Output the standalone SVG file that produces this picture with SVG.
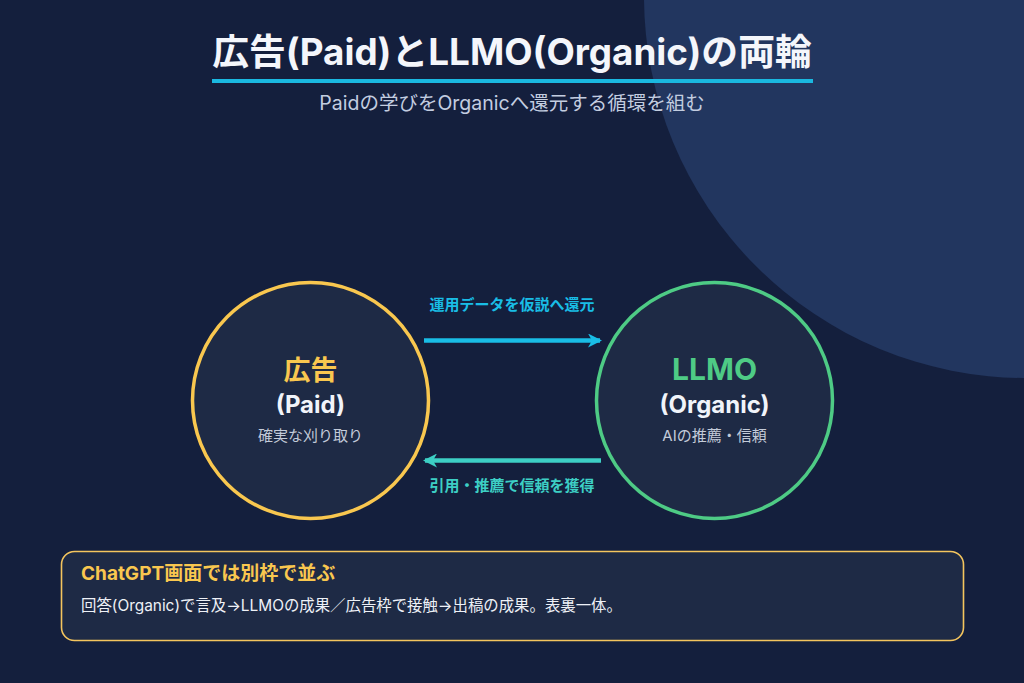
<svg xmlns="http://www.w3.org/2000/svg" width="1024" height="683" viewBox="0 0 1024 683">
  <defs>
    <marker id="headCyan" viewBox="0 0 14 14" refX="12" refY="7" markerWidth="14" markerHeight="14" markerUnits="userSpaceOnUse" orient="auto">
      <path d="M0,0 L14,7 L0,14 L4,7 Z" fill="#19bde6"/>
    </marker>
    <marker id="headTeal" viewBox="0 0 14 14" refX="12" refY="7" markerWidth="14" markerHeight="14" markerUnits="userSpaceOnUse" orient="auto">
      <path d="M0,0 L14,7 L0,14 L4,7 Z" fill="#3dcfc5"/>
    </marker>
  </defs>
  <style>
    .sans { font-family: "Inter", "Noto Sans CJK JP", sans-serif; }
    .title { font-size: 36.8px; font-weight: 700; fill: #f4f6fb; }
    .sub { font-size: 19.5px; fill: #c3cde0; }
    .node { fill: #1e2a45; stroke-width: 3.5; }
    .head { font-size: 27px; font-weight: 700; }
    .paren { font-size: 24px; font-weight: 700; fill: #f1f4fa; }
    .desc { font-size: 15px; fill: #c3cbd9; }
    .lab { font-size: 15px; font-weight: 700; }
  </style>
  <rect width="1024" height="683" fill="#141f3d"/>
  <circle cx="1026" cy="-4" r="382" fill="#22365f"/>

  <g id="title" class="sans">
    <text x="512" y="65" text-anchor="middle" class="title">広告(Paid)とLLMO(Organic)の両輪</text>
    <rect x="212" y="79" width="601" height="4" fill="#1ab8e0"/>
    <text x="512" y="110" text-anchor="middle" class="sub">Paidの学びをOrganicへ還元する循環を組む</text>
  </g>

  <g id="node-paid" class="sans">
    <circle cx="310.5" cy="400.5" r="118" class="node" stroke="#f9c74f"/>
    <text x="310.5" y="380" text-anchor="middle" class="head" fill="#f9c74f">広告</text>
    <text x="310.5" y="413" text-anchor="middle" class="paren">(Paid)</text>
    <text x="310.5" y="441" text-anchor="middle" class="desc">確実な刈り取り</text>
  </g>

  <g id="node-llmo" class="sans">
    <circle cx="714.5" cy="400.5" r="118" class="node" stroke="#4ecb85"/>
    <text x="714.5" y="380" text-anchor="middle" class="head" fill="#4ecb85" style="font-size:30px">LLMO</text>
    <text x="714.5" y="413" text-anchor="middle" class="paren">(Organic)</text>
    <text x="714.5" y="441" text-anchor="middle" class="desc">AIの推薦・信頼</text>
  </g>

  <g id="connectors" class="sans">
    <line x1="424" y1="340.5" x2="600" y2="340.5" stroke="#19bde6" stroke-width="4.5" marker-end="url(#headCyan)"/>
    <text x="512" y="310" text-anchor="middle" class="lab" fill="#19bde6">運用データを仮説へ還元</text>
    <line x1="601" y1="460.5" x2="425" y2="460.5" stroke="#3dcfc5" stroke-width="4.5" marker-end="url(#headTeal)"/>
    <text x="512" y="491" text-anchor="middle" class="lab" fill="#3dcfc5">引用・推薦で信頼を獲得</text>
  </g>

  <g id="note" class="sans">
    <rect x="61.5" y="551.5" width="902" height="89" rx="13" fill="#1e2a45" stroke="#f4c55e" stroke-width="1.6"/>
    <text x="81" y="580" font-size="19" font-weight="700" fill="#f9c74f">ChatGPT画面では別枠で並ぶ</text>
    <text x="81" y="611" font-size="15.4" fill="#eef1f7">回答(Organic)で言及→LLMOの成果／広告枠で接触→出稿の成果。表裏一体。</text>
  </g>
</svg>
